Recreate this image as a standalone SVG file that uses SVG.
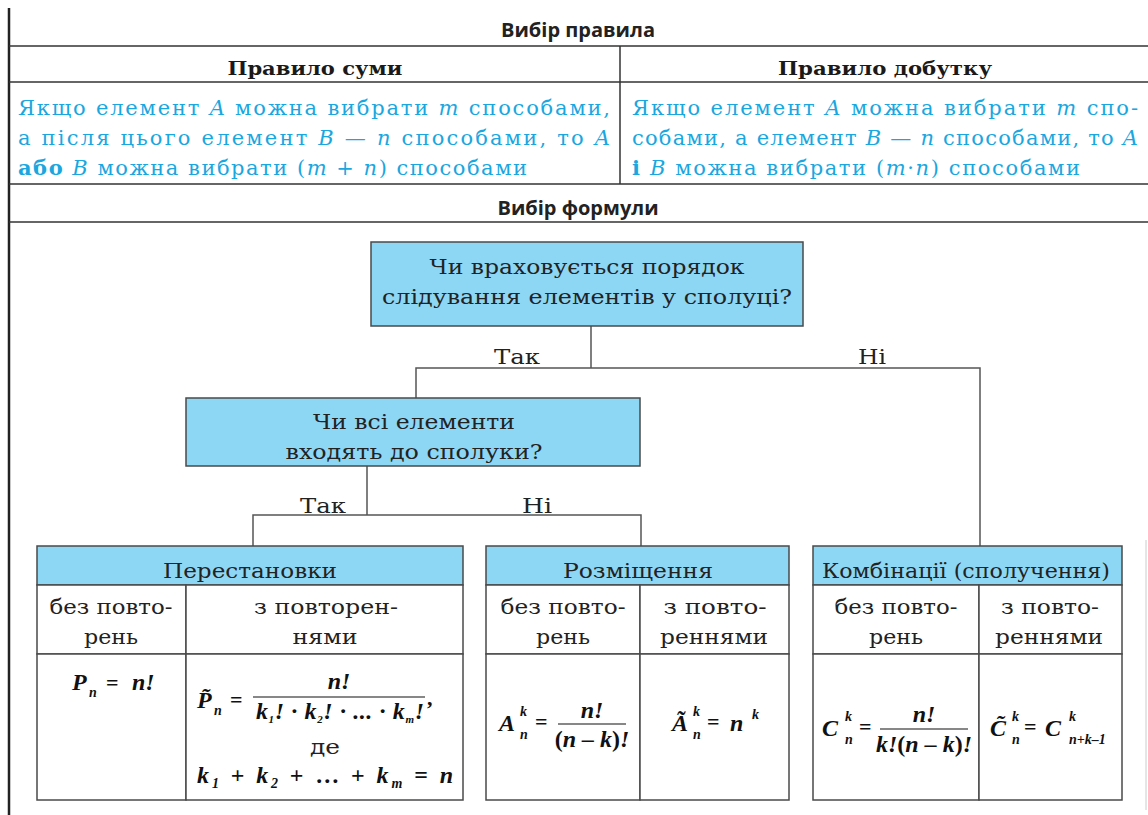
<svg xmlns="http://www.w3.org/2000/svg" width="1148" height="815" viewBox="0 0 1148 815" font-family="DejaVu Serif, Liberation Serif, serif">
<defs>
<style>
.sec{font-weight:700;font-size:20px;fill:#222;text-anchor:middle}
.hd{font-weight:700;font-size:19px;fill:#1a1a1a;text-anchor:middle}
.bl{font-size:21px;fill:#1aa7df}
.bli{font-style:italic}
.tx{font-size:20px;fill:#222;text-anchor:middle}
.m{font-style:italic;font-weight:700;font-size:24px;fill:#111}
.mr{font-weight:700;font-size:22px;fill:#111}
.ms{font-style:italic;font-weight:700;font-size:14px;fill:#111}
.q{fill:#8dd7f5;stroke:#4a4a4a;stroke-width:1.5}
.cell{fill:#fff;stroke:#4a4a4a;stroke-width:1.5}
.rule{stroke:#333;stroke-width:1.5;fill:none}
.cn{stroke:#555;stroke-width:1.5;fill:none}
.bar{stroke:#111;stroke-width:1.2}
</style>
</defs>
<rect width="1148" height="815" fill="#fff"/>

<g id="frame">
<line x1="9" y1="8" x2="9" y2="815" stroke="#222" stroke-width="2.5"/>
<line x1="9" y1="46" x2="1148" y2="46" class="rule"/>
<line x1="9" y1="82" x2="1148" y2="82" class="rule"/>
<line x1="620" y1="46" x2="620" y2="184" class="rule"/>
<line x1="9" y1="184" x2="1148" y2="184" class="rule"/>
<line x1="9" y1="222" x2="1148" y2="222" class="rule"/>
<line x1="1146" y1="540" x2="1146" y2="810" stroke="#ccc" stroke-width="1"/>
<g font-family="Open Sans, Noto Sans, sans-serif">
<text class="sec" x="578" y="37">Вибір правила</text>
<text class="sec" x="578" y="215">Вибір формули</text>
</g>
</g>

<g id="rule-sum" font-family="DejaVu Serif, serif">
<text class="hd" x="315" y="75" textLength="175" lengthAdjust="spacingAndGlyphs">Правило суми</text>
<text class="bl" x="18" y="115" textLength="592" lengthAdjust="spacing">Якщо елемент <tspan class="bli">A</tspan> можна вибрати <tspan class="bli">m</tspan> способами,</text>
<text class="bl" x="18" y="145" textLength="592" lengthAdjust="spacing">а після цього елемент <tspan class="bli">B</tspan> — <tspan class="bli">n</tspan> способами, то <tspan class="bli">A</tspan></text>
<text class="bl" x="18" y="175" textLength="509" lengthAdjust="spacing"><tspan font-weight="700">або</tspan> <tspan class="bli">B</tspan> можна вибрати (<tspan class="bli">m</tspan> + <tspan class="bli">n</tspan>) способами</text>
</g>

<g id="rule-product" font-family="DejaVu Serif, serif">
<text class="hd" x="885" y="75" textLength="214" lengthAdjust="spacingAndGlyphs">Правило добутку</text>
<text class="bl" x="632" y="115" textLength="506" lengthAdjust="spacing">Якщо елемент <tspan class="bli">A</tspan> можна вибрати <tspan class="bli">m</tspan> спо-</text>
<text class="bl" x="632" y="145" textLength="506" lengthAdjust="spacing">собами, а елемент <tspan class="bli">B</tspan> — <tspan class="bli">n</tspan> способами, то <tspan class="bli">A</tspan></text>
<text class="bl" x="632" y="175" textLength="448" lengthAdjust="spacing"><tspan font-weight="700">і</tspan> <tspan class="bli">B</tspan> можна вибрати (<tspan class="bli">m</tspan>·<tspan class="bli">n</tspan>) способами</text>
</g>

<g id="connectors" font-family="DejaVu Serif, serif">
<polyline class="cn" points="591,326 591,368"/>
<polyline class="cn" points="416,398 416,368 980,368 980,546"/>
<polyline class="cn" points="367,466 367,515"/>
<polyline class="cn" points="253,546 253,515 641,515 641,546"/>
<text class="tx" x="517" y="364" textLength="46" lengthAdjust="spacingAndGlyphs">Так</text>
<text class="tx" x="872" y="364" textLength="28" lengthAdjust="spacingAndGlyphs">Ні</text>
<text class="tx" x="323" y="513" textLength="46" lengthAdjust="spacingAndGlyphs">Так</text>
<text class="tx" x="537" y="513" textLength="30" lengthAdjust="spacingAndGlyphs">Ні</text>
</g>

<g id="q-order" font-family="DejaVu Serif, serif">
<rect class="q" x="371" y="242" width="432" height="84"/>
<text class="tx" x="587" y="274" textLength="315" lengthAdjust="spacingAndGlyphs">Чи враховується порядок</text>
<text class="tx" x="587" y="304" textLength="410" lengthAdjust="spacingAndGlyphs">слідування елементів у сполуці?</text>
</g>

<g id="q-all" font-family="DejaVu Serif, serif">
<rect class="q" x="186" y="398" width="454" height="68"/>
<text class="tx" x="414" y="429" textLength="202" lengthAdjust="spacingAndGlyphs">Чи всі елементи</text>
<text class="tx" x="414" y="459" textLength="257" lengthAdjust="spacingAndGlyphs">входять до сполуки?</text>
</g>

<g id="permutations">
<rect class="q" x="37" y="546" width="426" height="39"/>
<rect class="cell" x="37" y="585" width="149" height="69"/>
<rect class="cell" x="186" y="585" width="277" height="69"/>
<rect class="cell" x="37" y="654" width="149" height="146"/>
<rect class="cell" x="186" y="654" width="277" height="146"/>
<g font-family="DejaVu Serif, serif">
<text class="tx" x="250" y="578" textLength="174" lengthAdjust="spacingAndGlyphs">Перестановки</text>
<text class="tx" x="111" y="614" textLength="123" lengthAdjust="spacingAndGlyphs">без повто-</text>
<text class="tx" x="111" y="644" textLength="54" lengthAdjust="spacingAndGlyphs">рень</text>
<text class="tx" x="326" y="614" textLength="144" lengthAdjust="spacingAndGlyphs">з повторен-</text>
<text class="tx" x="325" y="644" textLength="65" lengthAdjust="spacingAndGlyphs">нями</text>
<text class="tx" x="325" y="754" textLength="30" lengthAdjust="spacingAndGlyphs">де</text>
</g>
<g font-family="Liberation Serif, serif">
<text class="m" x="72" y="690">P</text><text class="ms" x="89" y="697">n</text>
<text class="mr" x="106" y="690">=</text>
<text class="m" x="132" y="690">n!</text>
<text class="m" x="197" y="708">P̃</text><text class="ms" x="214" y="715">n</text>
<text class="mr" x="230" y="707">=</text>
<line class="bar" x1="253" y1="697" x2="425" y2="697"/>
<text class="m" x="339" y="689" font-size="20" text-anchor="middle">n!</text>
<text class="m" x="256" y="719" font-size="18" textLength="168" lengthAdjust="spacing">k<tspan font-size="11" dy="4">1</tspan><tspan dy="-4">! · k</tspan><tspan font-size="11" dy="4">2</tspan><tspan dy="-4">! · ... · k</tspan><tspan font-size="11" dy="4">m</tspan><tspan dy="-4">!</tspan></text>
<text class="mr" x="427" y="705">,</text>
<text class="m" x="197" y="783" font-size="24" textLength="256" lengthAdjust="spacing">k<tspan font-size="14" dy="5">1</tspan><tspan dy="-5" font-style="normal"> + </tspan>k<tspan font-size="14" dy="5">2</tspan><tspan dy="-5" font-style="normal"> + … + </tspan>k<tspan font-size="14" dy="5">m</tspan><tspan dy="-5" font-style="normal"> = </tspan>n</text>
</g>
</g>

<g id="arrangements">
<rect class="q" x="486" y="546" width="303" height="39"/>
<rect class="cell" x="486" y="585" width="154" height="69"/>
<rect class="cell" x="640" y="585" width="149" height="69"/>
<rect class="cell" x="486" y="654" width="154" height="146"/>
<rect class="cell" x="640" y="654" width="149" height="146"/>
<g font-family="DejaVu Serif, serif">
<text class="tx" x="638" y="578" textLength="150" lengthAdjust="spacingAndGlyphs">Розміщення</text>
<text class="tx" x="563" y="614" textLength="125" lengthAdjust="spacingAndGlyphs">без повто-</text>
<text class="tx" x="563" y="644" textLength="54" lengthAdjust="spacingAndGlyphs">рень</text>
<text class="tx" x="715" y="614" textLength="103" lengthAdjust="spacingAndGlyphs">з повто-</text>
<text class="tx" x="714" y="644" textLength="108" lengthAdjust="spacingAndGlyphs">реннями</text>
</g>
<g font-family="Liberation Serif, serif">
<text class="m" x="499" y="731">A</text><text class="ms" x="520" y="716">k</text><text class="ms" x="520" y="739">n</text>
<text class="mr" x="535" y="729">=</text>
<line class="bar" x1="558" y1="724" x2="626" y2="724"/>
<text class="m" x="592" y="718" font-size="19" text-anchor="middle">n!</text>
<text class="m" x="592" y="747" font-size="18" text-anchor="middle"><tspan font-style="normal">(</tspan>n – k<tspan font-style="normal">)</tspan>!</text>
<text class="m" x="672" y="731">Ã</text><text class="ms" x="693" y="716">k</text><text class="ms" x="693" y="739">n</text>
<text class="mr" x="707" y="729">=</text>
<text class="m" x="730" y="731">n</text><text class="ms" x="752" y="719">k</text>
</g>
</g>

<g id="combinations">
<rect class="q" x="813" y="546" width="309" height="39"/>
<rect class="cell" x="813" y="585" width="166" height="69"/>
<rect class="cell" x="979" y="585" width="143" height="69"/>
<rect class="cell" x="813" y="654" width="166" height="146"/>
<rect class="cell" x="979" y="654" width="143" height="146"/>
<g font-family="DejaVu Serif, serif">
<text class="tx" x="966" y="578" textLength="288" lengthAdjust="spacingAndGlyphs">Комбінації (сполучення)</text>
<text class="tx" x="896" y="614" textLength="123" lengthAdjust="spacingAndGlyphs">без повто-</text>
<text class="tx" x="896" y="644" textLength="54" lengthAdjust="spacingAndGlyphs">рень</text>
<text class="tx" x="1050" y="614" textLength="98" lengthAdjust="spacingAndGlyphs">з повто-</text>
<text class="tx" x="1049" y="644" textLength="108" lengthAdjust="spacingAndGlyphs">реннями</text>
</g>
<g font-family="Liberation Serif, serif">
<text class="m" x="822" y="736">C</text><text class="ms" x="845" y="721">k</text><text class="ms" x="845" y="744">n</text>
<text class="mr" x="859" y="734">=</text>
<line class="bar" x1="880" y1="729" x2="968" y2="729"/>
<text class="m" x="924" y="722" font-size="19" text-anchor="middle">n!</text>
<text class="m" x="924" y="752" font-size="18" text-anchor="middle">k!<tspan font-style="normal">(</tspan>n – k<tspan font-style="normal">)</tspan>!</text>
<text class="m" x="990" y="736">C̃</text><text class="ms" x="1012" y="721">k</text><text class="ms" x="1012" y="744">n</text>
<text class="mr" x="1024" y="734">=</text>
<text class="m" x="1045" y="736">C</text><text class="ms" x="1069" y="721">k</text><text class="ms" x="1069" y="744">n+k–1</text>
</g>
</g>
</svg>
